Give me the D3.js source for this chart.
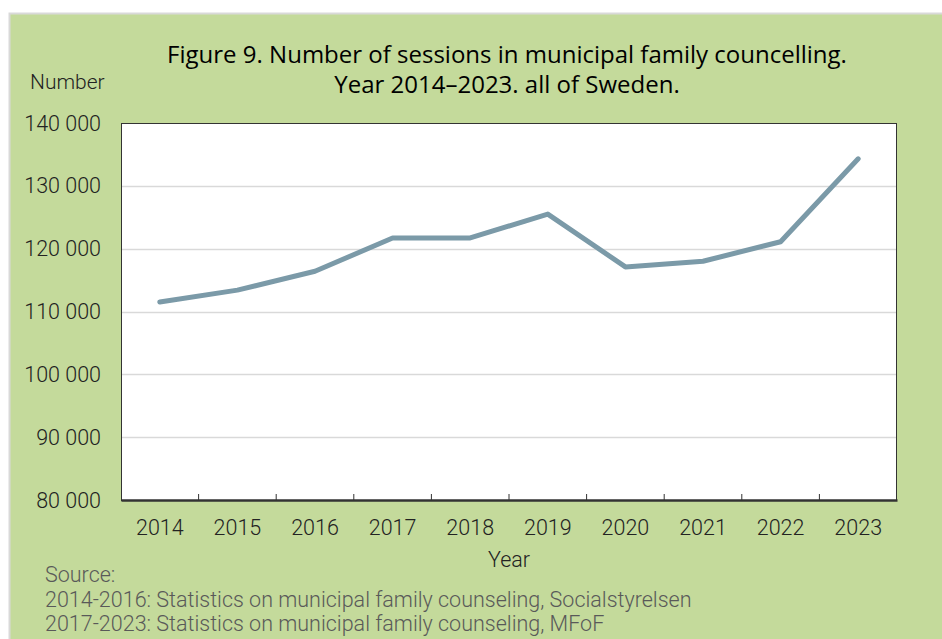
<!DOCTYPE html>
<html>
<head>
<meta charset="utf-8">
<script src="https://cdn.jsdelivr.net/npm/d3@7"></script>
<style>
  body { margin: 0; background: #fff; }
  svg { display: block; }
</style>
</head>
<body>
<svg id="chart" width="942" height="639"></svg>
<script>
var years = ["2014", "2015", "2016", "2017", "2018", "2019", "2020", "2021", "2022", "2023"],
	sessions = [111500, 113400, 116400, 121700, 121700, 125500, 117100, 118000, 121100, 134300],
	yTicks = [80000, 90000, 100000, 110000, 120000, 130000, 140000],
	titleLines = ["Figure 9. Number of sessions in municipal family councelling.", "Year 2014\u20132023. all of Sweden."],
	sourceLines = ["Source:", "2014-2016: Statistics on municipal family counseling, Socialstyrelsen", "2017-2023: Statistics on municipal family counseling, MFoF"];

var svg = d3.select("#chart"),
	width = +svg.attr("width"),
	height = +svg.attr("height"),
	margin = {top: 123, right: 45, bottom: 139, left: 121},
	w = width - margin.left - margin.right,
	h = height - margin.top - margin.bottom,
	labelFont = "Roboto, 'Liberation Sans', sans-serif",
	labelSize = 21.5;

// green background panel
svg.append("rect")
	.attr("x", 9.5).attr("y", 13.5)
	.attr("width", width).attr("height", height)
	.attr("fill", "#c4da9b")
	.attr("stroke", "#d9d9d9").attr("stroke-width", 2);

var x = d3.scaleBand().domain(years).range([0, w]),
	y = d3.scaleLinear().domain([80000, 140000]).range([h, 0]);

var g = svg.append("g").attr("transform", "translate(" + margin.left + "," + margin.top + ")");

g.append("rect")
	.attr("width", w).attr("height", h)
	.attr("fill", "#fff");

// gridlines
g.selectAll(".grid").data(yTicks.slice(1, -1)).enter().append("line")
	.attr("x1", 0).attr("x2", w)
	.attr("y1", function(d) { return Math.round(y(d)) + 0.5; })
	.attr("y2", function(d) { return Math.round(y(d)) + 0.5; })
	.attr("stroke", "#d9d9d9").attr("stroke-width", 1.5);

// frame
g.append("rect")
	.attr("x", 0.5).attr("y", 0.5)
	.attr("width", w - 1).attr("height", h)
	.attr("fill", "none")
	.attr("stroke", "#333").attr("stroke-width", 1);

// y axis labels
g.selectAll(".ylab").data(yTicks).enter().append("text")
	.attr("x", -20)
	.attr("y", function(d) { return y(d); })
	.attr("dy", "0.35em")
	.attr("text-anchor", "end")
	.attr("font-family", labelFont).attr("font-weight", 300)
	.attr("font-size", labelSize).attr("fill", "#222")
	.text(function(d) { return d3.format(",")(d).replace(",", " "); });

// x axis
var xAxis = g.append("g")
	.attr("transform", "translate(0," + h + ")")
	.call(d3.axisBottom(x).tickSize(0).tickPadding(20));
xAxis.select(".domain").attr("stroke", "#333").attr("stroke-width", 2.5);
xAxis.selectAll("text")
	.attr("font-family", labelFont).attr("font-weight", 300)
	.attr("font-size", labelSize).attr("fill", "#222");

g.selectAll(".xtick").data(years.slice(1)).enter().append("line")
	.attr("x1", function(d) { return x(d); })
	.attr("x2", function(d) { return x(d); })
	.attr("y1", h - 6).attr("y2", h)
	.attr("stroke", "#333").attr("stroke-width", 1);

// the line
var line = d3.line()
	.x(function(d, i) { return x(years[i]) + x.bandwidth() / 2; })
	.y(function(d) { return y(d); });

g.append("path")
	.datum(sessions)
	.attr("d", line)
	.attr("fill", "none")
	.attr("stroke", "#7b9aa8")
	.attr("stroke-width", 5)
	.attr("stroke-linecap", "round")
	.attr("stroke-linejoin", "round");

// titles
svg.selectAll(".title").data(titleLines).enter().append("text")
	.attr("x", 507)
	.attr("y", function(d, i) { return 63 + i * 30; })
	.attr("text-anchor", "middle")
	.attr("font-family", "'Open Sans', 'Noto Sans', sans-serif")
	.attr("font-size", 24).attr("fill", "#000")
	.text(function(d) { return d; });

svg.append("text")
	.attr("x", 30).attr("y", 89)
	.attr("font-family", labelFont).attr("font-weight", 300)
	.attr("font-size", 21).attr("fill", "#222")
	.text("Number");

svg.append("text")
	.attr("x", margin.left + w / 2).attr("y", 567)
	.attr("text-anchor", "middle")
	.attr("font-family", labelFont).attr("font-weight", 300)
	.attr("font-size", labelSize).attr("fill", "#222")
	.text("Year");

svg.selectAll(".source").data(sourceLines).enter().append("text")
	.attr("x", 45)
	.attr("y", function(d, i) { return 582 + i * 24.5; })
	.attr("font-family", labelFont).attr("font-weight", 300)
	.attr("font-size", labelSize).attr("fill", "#595959")
	.text(function(d) { return d; });
</script>
</body>
</html>
